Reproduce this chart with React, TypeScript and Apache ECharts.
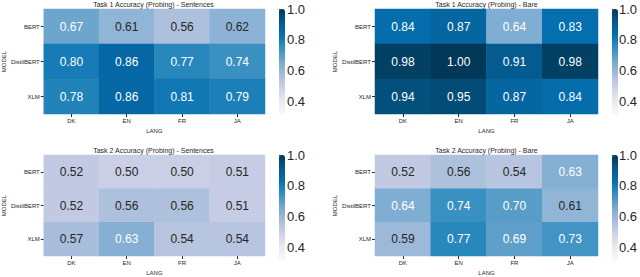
import React, { useEffect, useRef } from "react";
import * as echarts from "echarts";

const langs = ["DK", "EN", "FR", "JA"];
const models = ["BERT", "DistilBERT", "XLM"];
const titles = [
  "Task 1 Accuracy (Probing) - Sentences",
  "Task 1 Accuracy (Probing) - Bare",
  "Task 2 Accuracy (Probing) - Sentences",
  "Task 2 Accuracy (Probing) - Bare",
];
// rows: BERT, DistilBERT, XLM ; columns: DK, EN, FR, JA
const task1Sentences = [
  [0.67, 0.61, 0.56, 0.62],
  [0.8, 0.86, 0.77, 0.74],
  [0.78, 0.86, 0.81, 0.79],
];
const task1Bare = [
  [0.84, 0.87, 0.64, 0.83],
  [0.98, 1.0, 0.91, 0.98],
  [0.94, 0.95, 0.87, 0.84],
];
const task2Sentences = [
  [0.52, 0.5, 0.5, 0.51],
  [0.52, 0.56, 0.56, 0.51],
  [0.57, 0.63, 0.54, 0.54],
];
const task2Bare = [
  [0.52, 0.56, 0.54, 0.63],
  [0.64, 0.74, 0.7, 0.61],
  [0.59, 0.77, 0.69, 0.73],
];
const colorbarTicks = [0.4, 0.6, 0.8, 1.0];
const vMin = 0.32;
const vMax = 1.0;
const puBu = ["#fff7fb", "#ece7f2", "#d0d1e6", "#a6bddb", "#74a9cf", "#3690c0", "#0570b0", "#045a8d", "#023858"];

const panels = [task1Sentences, task1Bare, task2Sentences, task2Bare];
const lefts = [42, 375, 42, 375];
const tops = [9, 9, 155, 155];
const W = 223;
const H = 105;
const cbGap = 14;
const cbW = 6;
const dark = "#262626";
const font = "Liberation Sans, Arial, sans-serif";

export default function App() {
  const ref = useRef<HTMLDivElement>(null);
  useEffect(() => {
    if (!ref.current) return;
    const chart = echarts.init(ref.current, null, { renderer: "svg" });
    const grid: any[] = [];
    const xAxis: any[] = [];
    const yAxis: any[] = [];
    const series: any[] = [];
    const visualMap: any[] = [];
    const title: any[] = [];
    panels.forEach((p, i) => {
      grid.push({ left: lefts[i], top: tops[i], width: W, height: H });
      xAxis.push({
        type: "category",
        gridIndex: i,
        data: langs,
        axisLine: { show: false },
        axisTick: { show: true, length: 3, alignWithLabel: true, lineStyle: { color: dark } },
        axisLabel: { fontSize: 6, color: dark, margin: 4, fontFamily: font },
        splitLine: { show: false },
        name: "LANG",
        nameLocation: "middle",
        nameGap: 14,
        nameTextStyle: { fontSize: 6, color: dark, fontFamily: font },
      });
      yAxis.push({
        type: "category",
        gridIndex: i,
        data: models,
        inverse: true,
        axisLine: { show: false },
        axisTick: { show: true, length: 3, alignWithLabel: true, lineStyle: { color: dark } },
        axisLabel: { fontSize: 6, color: dark, margin: 4, fontFamily: font },
        splitLine: { show: false },
        name: "MODEL",
        nameLocation: "middle",
        nameGap: 35,
        nameRotate: 90,
        nameTextStyle: { fontSize: 6, color: dark, fontFamily: font },
      });
      const data: any[] = [];
      p.forEach((row, r) =>
        row.forEach((v, c) => {
          data.push({
            value: [c, r, v],
            label: { color: v >= 0.625 ? "#ffffff" : dark },
          });
        })
      );
      series.push({
        type: "heatmap",
        xAxisIndex: i,
        yAxisIndex: i,
        data,
        label: {
          show: true,
          fontSize: 12,
          fontFamily: font,
          formatter: (pp: any) => pp.value[2].toFixed(2),
        },
        emphasis: { disabled: true },
      });
      visualMap.push({
        type: "continuous",
        seriesIndex: i,
        dimension: 2,
        min: vMin,
        max: vMax,
        calculable: false,
        hoverLink: false,
        orient: "vertical",
        left: lefts[i] + W + cbGap,
        top: tops[i],
        itemWidth: cbW,
        itemHeight: H,
        padding: 0,
        text: null,
        showLabel: false,
        inRange: { color: puBu },
      });
      title.push({
        text: titles[i],
        left: lefts[i] + W / 2,
        top: tops[i] - 8,
        textAlign: "center",
        padding: 0,
        textStyle: { fontSize: 7, fontWeight: "normal", color: dark, fontFamily: font },
      });
    });
    // colorbar axes
    panels.forEach((_, i) => {
      const gi = grid.length;
      grid.push({ left: lefts[i] + W + cbGap, top: tops[i], width: cbW, height: H });
      xAxis.push({ type: "value", gridIndex: gi, show: false });
      yAxis.push({
        type: "value",
        gridIndex: gi,
        min: vMin,
        max: vMax,
        position: "right",
        axisLine: { show: false },
        splitLine: { show: false },
        axisTick: { show: true, length: 3, customValues: colorbarTicks, lineStyle: { color: dark } },
        axisLabel: {
          customValues: colorbarTicks,
          fontSize: 13,
          color: dark,
          margin: 2,
          fontFamily: font,
          formatter: (v: number) => v.toFixed(1),
        },
      });
    });
    chart.setOption({
      animation: false,
      backgroundColor: "#ffffff",
      title,
      grid,
      xAxis,
      yAxis,
      visualMap,
      series,
    });
    return () => chart.dispose();
  }, []);
  return <div ref={ref} style={{ position: "fixed", left: 0, top: 0, width: 640, height: 277 }} />;
}
